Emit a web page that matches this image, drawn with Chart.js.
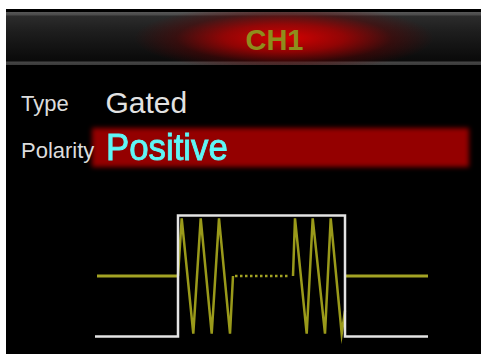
<!DOCTYPE html>
<html>
<head>
<meta charset="utf-8">
<script src="https://cdn.jsdelivr.net/npm/chart.js@4.4.1/dist/chart.umd.min.js"></script>
<style>
  html, body { margin: 0; padding: 0; background: #fff; }
  body { width: 481px; height: 354px; position: relative; overflow: hidden; font-family: 'Liberation Sans', Arial, sans-serif; }
  .panel { position: absolute; left: 6px; top: 9px; width: 475px; height: 345px; background: #000; }
  .header {
    position: absolute; left: 6px; top: 12px; width: 475px; height: 53px;
    background:
      radial-gradient(ellipse 150px 34px at 278px 26px, rgba(220,0,0,0.97) 0%, rgba(175,0,0,0.8) 40%, rgba(100,0,0,0.4) 72%, rgba(0,0,0,0) 100%),
      linear-gradient(#575757 0, #4a4a4a 3px, #2c2c2c 4px, #1d1d1d 20px, #0b0b0b 47px, #0b0b0b 49px, #454545 50px, #3a3a3a 53px);
  }
  .txt { position: absolute; white-space: nowrap; line-height: 1; }
  #ch { left: 0; width: 549px; text-align: center; top: 26px; font-size: 29px; font-weight: bold; color: #8e8e1c; }
  #typeLbl { left: 21px; top: 93px; font-size: 22px; color: #dcdcdc; }
  #typeVal { left: 105.5px; top: 87.9px; font-size: 30px; color: #e2e2e2; }
  #polLbl { left: 21px; top: 139.5px; font-size: 22px; color: #dcdcdc; }
  .bar { position: absolute; left: 92px; top: 128px; width: 377px; height: 39px; background: #940000; filter: blur(2.5px); }
  #polVal { left: 106px; top: 128.7px; font-size: 37px; color: #5ff6f6; -webkit-text-stroke: 0.9px #5ff6f6; transform: scaleX(0.94); transform-origin: left top; }
  #wave { position: absolute; left: 78px; top: 201px; }
</style>
</head>
<body>
<div class="panel"></div>
<div class="header"></div>
<div class="txt" id="ch">CH1</div>
<div class="txt" id="typeLbl">Type</div>
<div class="txt" id="typeVal">Gated</div>
<div class="bar"></div>
<div class="txt" id="polLbl">Polarity</div>
<div class="txt" id="polVal">Positive</div>
<canvas id="wave" width="360" height="150"></canvas>
<script>
// time in arbitrary ticks, gate opens at t = 0; level in normalised volts
const gateT = [-83, 0, 0, 167, 167, 250];
const gateV = [-1.05, -1.05, 1.05, 1.05, -1.05, -1.05];

const idleLeftT = [-81, 0];
const idleRightT = [167, 250];
const idleV = [0, 0];

const burst1T = [0, 3.7, 15.3, 22.7, 33.7, 41, 52, 55];
const burst1V = [0, 1, -1, 1, -1, 1, -1, 0];

const dotsT = [57, 111];
const dotsV = [0, 0];

const burst2T = [115, 117, 128.7, 134.7, 147, 152.7, 163.7, 167];
const burst2V = [0, 1, -1, 1, -1, 1, -1, -0.6];

const pts = (ts, vs) => ts.map((t, i) => ({ x: t, y: vs[i] }));

const olive = '#a3a324';
const sine = '#9a9a1a';

new Chart(document.getElementById('wave'), {
  type: 'line',
  data: {
    datasets: [
      { data: pts(gateT, gateV), borderColor: '#e4e4e4', borderWidth: 2.5 },
      { data: pts(idleLeftT, idleV), borderColor: olive, borderWidth: 3.2 },
      { data: pts(idleRightT, idleV), borderColor: olive, borderWidth: 3.2 },
      { data: pts(burst1T, burst1V), borderColor: sine, borderWidth: 2.5 },
      { data: pts(dotsT, dotsV), borderColor: olive, borderWidth: 2.5, borderDash: [2.5, 2.5] },
      { data: pts(burst2T, burst2V), borderColor: sine, borderWidth: 2.5 }
    ]
  },
  options: {
    responsive: false,
    animation: false,
    events: [],
    layout: { padding: 0 },
    elements: { point: { radius: 0 }, line: { tension: 0, borderJoinStyle: 'miter' } },
    datasets: { line: { clip: false } },
    plugins: { legend: { display: false }, tooltip: { enabled: false } },
    scales: {
      x: { type: 'linear', display: false, min: -100, max: 260 },
      y: { display: false, min: -1.3, max: 1.3 }
    }
  }
});
</script>
</body>
</html>
